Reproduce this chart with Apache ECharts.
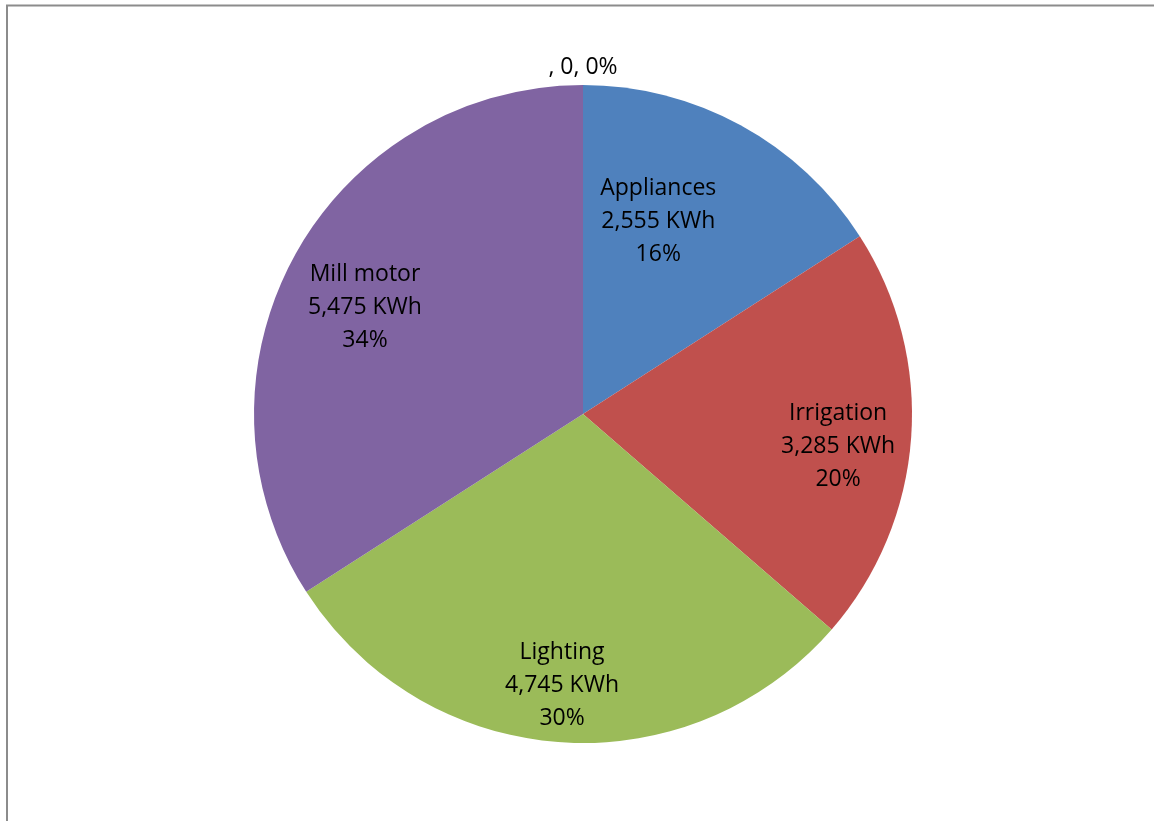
<!DOCTYPE html>
<html>
<head>
<meta charset="utf-8">
<title>Energy use by load</title>
<script src="https://cdn.jsdelivr.net/npm/echarts@6/dist/echarts.min.js"></script>
<style>
  html, body { margin: 0; padding: 0; background: #ffffff; }
  #chart { width: 1154px; height: 821px; }
</style>
</head>
<body>
<div id="chart"></div>
<script>
// Annual consumption per load type (KWh)
const categories = ['', 'Appliances', 'Irrigation', 'Lighting', 'Mill motor'];
const consumption = [0, 2555, 3285, 4745, 5475];
const colors = ['#4f81bd', '#4f81bd', '#c0504d', '#9bbb59', '#8064a2'];
// label nudges from the default inside position, per slice
const labelOffsets = [[0, -179], [-5, -46], [88, 21], [-9, 104], [-71, -26]];

const fmt = n => n.toLocaleString('en-US');
const FONT = '"Open Sans", "Noto Sans", sans-serif';

const data = categories.map((name, i) => {
  const item = {
    name: name,
    value: consumption[i],
    itemStyle: { color: colors[i] },
    label: { offset: labelOffsets[i] }
  };
  if (consumption[i] === 0) {
    // empty category: single-line label above the pie
    item.label.formatter = p => name + ', ' + fmt(p.value) + ', ' + Math.round(p.percent) + '%';
  }
  return item;
});

const chart = echarts.init(document.getElementById('chart'), null, { renderer: 'canvas' });
chart.setOption({
  animation: false,
  backgroundColor: '#ffffff',
  graphic: [{
    type: 'rect',
    shape: { x: 7, y: 5.5, width: 1300, height: 1000 },
    style: { fill: 'none', stroke: '#8c8c8c', lineWidth: 2 },
    silent: true,
    z: 10
  }],
  series: [{
    type: 'pie',
    center: [583, 414],
    radius: [0, 329],
    startAngle: 90,
    clockwise: true,
    avoidLabelOverlap: false,
    minShowLabelAngle: 0,
    stillShowZeroSum: true,
    itemStyle: { borderWidth: 0 },
    emphasis: { disabled: true },
    label: {
      show: true,
      position: 'inside',
      color: '#000000',
      fontFamily: FONT,
      fontSize: 23,
      lineHeight: 33,
      align: 'center',
      formatter: p => p.name + '\n' + fmt(p.value) + ' KWh\n' + Math.round(p.percent) + '%'
    },
    labelLine: { show: false },
    data: data
  }]
});
</script>
</body>
</html>
